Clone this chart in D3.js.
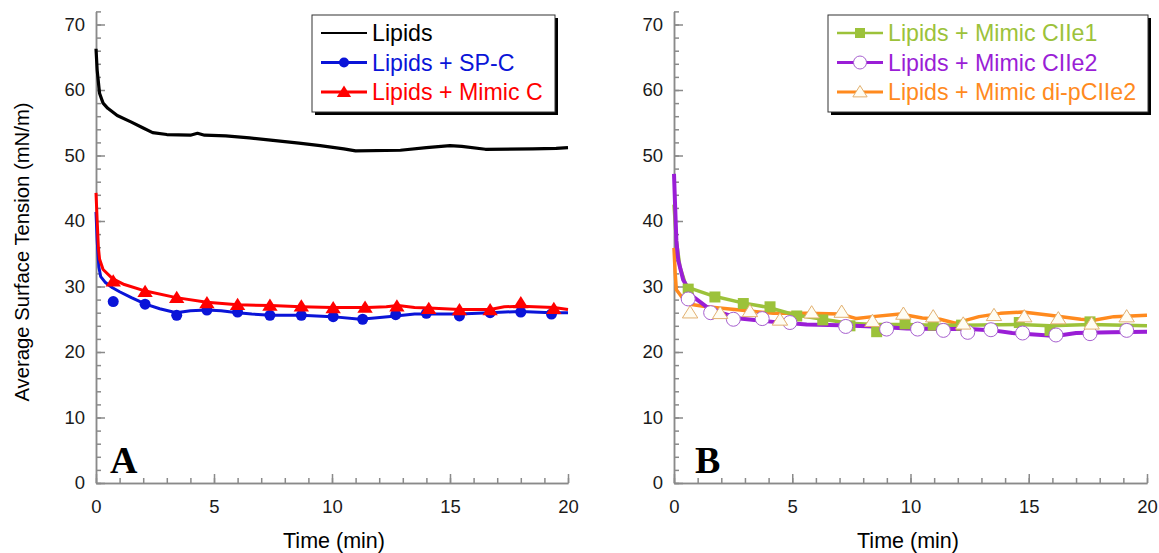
<!DOCTYPE html>
<html>
<head>
<meta charset="utf-8">
<script src="https://cdn.jsdelivr.net/npm/d3@7"></script>
<style>
body{margin:0;background:#fff;}
svg{display:block;font-family:"Liberation Sans",Arial,sans-serif;}
</style>
</head>
<body>
<svg id="chart" width="1159" height="553"></svg>
<script>
// panel A lines [time, tension]
let lipids = [[0,66.3],[0.05,63],[0.15,59.5],[0.3,58],[0.5,57.2],[0.9,56.1],[1.5,55.1],[2.0,54.2],[2.4,53.5],[3.0,53.2],[4.0,53.1],[4.3,53.4],[4.6,53.1],[5.5,53.0],[6.5,52.7],[7.5,52.3],[8.6,51.9],[9.5,51.5],[10.5,51.0],[11.0,50.7],[12.9,50.8],[14,51.2],[15,51.5],[15.5,51.4],[16.5,50.95],[18.5,51.0],[19.5,51.1],[20,51.2]];
let spcLine = [[0,41.4],[0.05,37],[0.12,33],[0.2,31.5],[0.4,30.6],[0.7,29.8],[1.0,29.2],[1.5,28.3],[2.1,27.3],[2.7,26.6],[3.4,26.0],[4.0,26.3],[4.7,26.4],[5.3,26.3],[6.0,26.0],[6.6,25.8],[7.4,25.6],[8.7,25.6],[10.0,25.4],[11.2,25.0],[11.8,25.2],[12.7,25.5],[13.5,25.8],[14.0,25.8],[15.4,25.8],[16.7,26.0],[18.0,26.2],[19.3,26.0],[20,26.0]];
let spcPts = [[0.73,27.7],[2.08,27.3],[3.42,25.6],[4.7,26.4],[6.0,26.1],[7.37,25.6],[8.7,25.6],[10.05,25.4],[11.3,25.0],[12.7,25.7],[14.0,25.9],[15.4,25.5],[16.7,26.0],[18.0,26.1],[19.3,25.8]];
let mimicLine = [[0,44.3],[0.05,40],[0.1,36],[0.15,34.2],[0.3,32.6],[0.7,31.2],[1.2,30.3],[2.1,29.3],[3.4,28.3],[4.7,27.6],[6.0,27.2],[7.4,27.1],[8.7,26.9],[10.0,26.8],[11.5,26.8],[12.3,26.9],[12.8,27.1],[13.5,26.8],[14.1,26.7],[15.4,26.5],[16.7,26.5],[17.3,26.9],[18.0,27.0],[19.4,26.8],[20,26.5]];
let mimicPts = [[0.73,30.8],[2.08,29.2],[3.42,28.3],[4.7,27.5],[6.0,27.2],[7.37,27.1],[8.7,27.0],[10.05,26.7],[11.4,26.8],[12.75,27.0],[14.1,26.6],[15.4,26.4],[16.7,26.4],[18.0,27.5],[19.4,26.6]];
// panel B
let ciie1Line = [[0,42.5],[0.1,37],[0.25,33],[0.5,30.2],[0.8,29.6],[1.7,28.5],[2.9,27.5],[4.0,26.8],[5.2,25.6],[6.3,25.0],[7.4,24.4],[8.5,24.2],[9.8,24.2],[11,24.1],[12.2,24.1],[14.6,24.2],[15.9,24.0],[17.6,24.2],[20,24.0]];
let ciie1Pts = [[0.6,29.6],[1.73,28.4],[2.93,27.4],[4.06,26.9],[5.19,25.5],[6.29,24.9],[7.44,24.0],[8.57,23.1],[9.77,24.3],[10.96,24.1],[12.16,24.1],[14.6,24.5],[15.9,23.3],[17.59,24.6]];
let ciie2Line = [[0,47.2],[0.05,42],[0.1,37],[0.18,34],[0.39,31],[0.82,28.4],[1.38,26.9],[2.08,25.9],[2.79,25.1],[4.2,24.6],[5.61,24.2],[7.02,24.1],[8.43,23.9],[9.84,23.6],[11.25,23.5],[12.5,23.5],[13.5,23.3],[14.3,22.9],[16.15,22.45],[17.0,22.9],[18.5,23.0],[20,23.1]];
let ciie2Pts = [[0.6,28.1],[1.55,26.0],[2.51,25.0],[3.73,25.1],[4.9,24.5],[7.26,23.9],[8.99,23.5],[10.3,23.5],[11.39,23.3],[12.42,23.0],[13.4,23.4],[14.74,22.9],[16.15,22.6],[17.59,22.8],[19.14,23.3]];
let dipLine = [[0,35.9],[0.05,32],[0.1,29.5],[0.33,28.4],[0.68,27.3],[1.38,26.9],[2.79,26.4],[4.2,25.9],[5.61,25.9],[7.02,25.8],[7.72,25.1],[8.4,25.4],[9.56,25.8],[10.5,25.2],[11.25,25.0],[11.9,24.4],[12.9,25.4],[13.8,25.9],[14.75,26.1],[15.9,25.6],[17.2,25.0],[17.8,24.9],[18.6,25.4],[20,25.6]];
let dipPts = [[0.68,26.0],[1.95,25.9],[3.21,26.2],[4.48,24.9],[5.82,26.0],[7.09,26.1],[8.39,24.7],[9.7,25.8],[10.96,25.4],[12.23,24.3],[13.53,25.6],[14.81,25.4],[16.25,25.1],[17.66,24.3],[19.14,25.4]];

let xMajor = [0,5,10,15,20];
let yMajor = [0,10,20,30,40,50,60,70];

let svg = d3.select('#chart');
let yScale = d3.scaleLinear().domain([0,72]).range([483, 483-72*6.55]);

function drawAxes(g, x){
    let axCol = '#8a8a8a';
    let xa = g.append('g').attr('transform','translate(0,483)');
    xa.call(d3.axisBottom(x).tickValues(d3.range(0,21,1)).tickSize(-5).tickSizeOuter(0).tickFormat(''));
    let xb = g.append('g').attr('transform','translate(0,483)');
    xb.call(d3.axisBottom(x).tickValues(xMajor).tickSize(-9).tickSizeOuter(0).tickPadding(17));
    let ya = g.append('g').attr('transform',`translate(${x(0)},0)`);
    ya.call(d3.axisLeft(yScale).tickValues(d3.range(0,73,2)).tickSize(-5).tickSizeOuter(0).tickFormat(''));
    let yb = g.append('g').attr('transform',`translate(${x(0)},0)`);
    yb.call(d3.axisLeft(yScale).tickValues(yMajor).tickSize(-9).tickSizeOuter(0).tickPadding(11));
    g.selectAll('.domain, .tick line').attr('stroke',axCol).attr('stroke-width',1.5);
    g.selectAll('.tick text').attr('font-size',18.5).attr('fill','#1a1a1a').attr('font-family','"Liberation Sans",Arial,sans-serif');
    xb.selectAll('.tick text').attr('dy','0.71em');
}

function drawLine(g, x, data, color, w){
    let line = d3.line().x(d=>x(d[0])).y(d=>yScale(d[1]));
    g.append('path').datum(data).attr('d',line).attr('fill','none').attr('stroke',color).attr('stroke-width',w).attr('stroke-linejoin','round');
}

function marker(g, type, cx, cy, st){
    if(type=='circle') g.append('circle').attr('cx',cx).attr('cy',cy).attr('r',st.r).attr('fill',st.fill).attr('stroke',st.stroke).attr('stroke-width',st.sw||0);
    else if(type=='square') g.append('rect').attr('x',cx-st.r).attr('y',cy-st.r).attr('width',st.r*2).attr('height',st.r*2).attr('fill',st.fill);
    else {
        let r = st.r;
        g.append('path').attr('d',`M${cx},${cy-r}L${cx+r*1.1},${cy+r*0.75}L${cx-r*1.1},${cy+r*0.75}Z`)
        .attr('fill',st.fill).attr('stroke',st.stroke||'none').attr('stroke-width',st.sw||0);
    }
}

function drawPts(g, x, data, type, st){
    data.forEach(d=>marker(g, type, x(d[0]), yScale(d[1]), st));
}

function legend(g, x0, x1, items){
    g.append('rect').attr('x',x0+3).attr('y',18).attr('width',x1-x0).attr('height',97).attr('fill','#000');
    g.append('rect').attr('x',x0).attr('y',15).attr('width',x1-x0).attr('height',97).attr('fill','#fff').attr('stroke','#333').attr('stroke-width',1);
    items.forEach((it,i)=>{
        let cy = 33 + i*29.5;
        g.append('line').attr('x1',x0+9).attr('x2',x0+55).attr('y1',cy).attr('y2',cy).attr('stroke',it.color).attr('stroke-width',it.w);
        if(it.type) marker(g, it.type, x0+32, cy, it.st);
        g.append('text').attr('x',x0+60).attr('y',cy+8).attr('font-size',23.2).attr('fill',it.color).text(it.label);
    });
}

// panel A
let xA = d3.scaleLinear().domain([0,20]).range([96,568]);
let gA = svg.append('g');
drawAxes(gA, xA);
drawLine(gA, xA, lipids, '#000', 3.2);
drawLine(gA, xA, spcLine, '#0a14d8', 3);
drawPts(gA, xA, spcPts, 'circle', {r:5.5, fill:'#0a14d8'});
drawLine(gA, xA, mimicLine, '#ff0000', 3);
drawPts(gA, xA, mimicPts, 'tri', {r:7, fill:'#ff0000'});
legend(gA, 312, 555, [
    {label:'Lipids', color:'#000', w:2},
    {label:'Lipids + SP-C', color:'#0a14d8', w:3, type:'circle', st:{r:5, fill:'#0a14d8'}},
    {label:'Lipids + Mimic C', color:'#ff0000', w:3, type:'tri', st:{r:6.5, fill:'#ff0000'}}
]);
gA.append('text').attr('x',110).attr('y',473).attr('font-family','"Liberation Serif","Times New Roman",serif').attr('font-weight','bold').attr('font-size',38).text('A');

// panel B
let xB = d3.scaleLinear().domain([0,20]).range([674,1147]);
let gB = svg.append('g');
drawAxes(gB, xB);
drawLine(gB, xB, dipLine, '#ff8a1e', 3.5);
drawLine(gB, xB, ciie1Line, '#9cc23a', 3.5);
drawLine(gB, xB, ciie2Line, '#9a1ed6', 4);
drawPts(gB, xB, ciie1Pts, 'square', {r:5.5, fill:'#9cc23a'});
drawPts(gB, xB, ciie2Pts, 'circle', {r:7, fill:'#fff', stroke:'#a760cf', sw:1});
drawPts(gB, xB, dipPts, 'tri', {r:7, fill:'#fffdf3', stroke:'#e2b070', sw:1});
legend(gB, 828, 1148, [
    {label:'Lipids + Mimic CIIe1', color:'#9cc23a', w:2.5, type:'square', st:{r:5, fill:'#9cc23a'}},
    {label:'Lipids + Mimic CIIe2', color:'#9a1ed6', w:3, type:'circle', st:{r:6.5, fill:'#fff', stroke:'#a760cf', sw:1}},
    {label:'Lipids + Mimic di-pCIIe2', color:'#ff8a1e', w:3, type:'tri', st:{r:6.5, fill:'#fffdf3', stroke:'#e2b070', sw:1}}
]);
gB.append('text').attr('x',695).attr('y',473).attr('font-family','"Liberation Serif","Times New Roman",serif').attr('font-weight','bold').attr('font-size',38).text('B');

// titles
svg.append('text').attr('x',334).attr('y',548).attr('text-anchor','middle').attr('font-size',21.5).text('Time (min)');
svg.append('text').attr('x',908).attr('y',548).attr('text-anchor','middle').attr('font-size',21.5).text('Time (min)');
svg.append('text').attr('transform','translate(29,252) rotate(-90)').attr('text-anchor','middle').attr('font-size',20.3).text('Average Surface Tension (mN/m)');
</script>
</body>
</html>
